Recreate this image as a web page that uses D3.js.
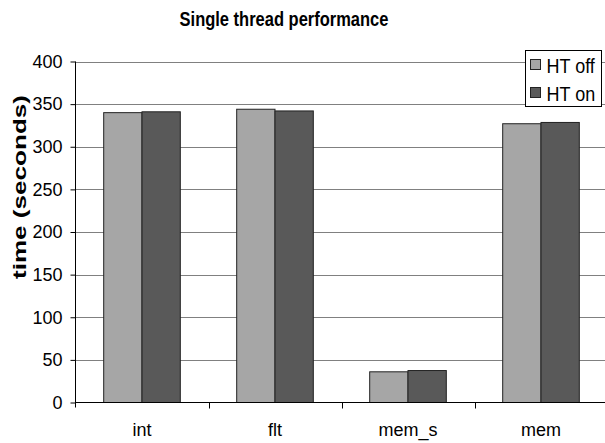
<!DOCTYPE html>
<html>
<head>
    <meta charset="utf-8">
    <title>Single thread performance</title>
    <style type="text/css">
        body{
            margin:0;
            padding:0;
            background:#fff;
            font-family: 'Liberation Sans', Arial, Helvetica, sans-serif;
        }
        text {
            fill: #000;
        }
        .grid line {
            stroke: #808080;
            stroke-width: 1;
        }
        .bar {
            stroke: #222;
            stroke-width: 1;
        }
    </style>
</head>

<body>
<div id="chart"></div>

<script src="https://d3js.org/d3.v7.min.js"></script>
<script>

var categories = ["int", "flt", "mem_s", "mem"];
var series = ["HT off", "HT on"];
var htOff = [340, 344, 36, 327];
var htOn = [341, 342, 37.5, 328.5];
var yTicks = [0, 50, 100, 150, 200, 250, 300, 350, 400];
var colors = ["#a6a6a6", "#595959"];

var width = 605,
    height = 443;

var svg = d3.select("#chart").append("svg")
    .attr("width", width)
    .attr("height", height);

var x = d3.scaleBand()
    .domain(categories)
    .range([75.5, 607.5])
    .padding(0);

var xSub = d3.scaleBand()
    .domain(series)
    .range([0, x.bandwidth()])
    .paddingInner(0)
    .paddingOuter(0.736);

var y = d3.scaleLinear()
    .domain([0, 400])
    .range([402.5, 61.5]);

// gridlines
svg.append("g")
    .attr("class", "grid")
    .selectAll("line")
    .data(yTicks.filter(function(d) { return d > 0; }))
    .enter().append("line")
    .attr("x1", 75.5)
    .attr("x2", width)
    .attr("y1", function(d) { return Math.round(y(d)) + 0.5; })
    .attr("y2", function(d) { return Math.round(y(d)) + 0.5; });

// bars
var rows = categories.map(function(c, i) {
    return { cat: c, values: [htOff[i], htOn[i]] };
});

svg.append("g")
    .selectAll("g")
    .data(rows)
    .enter().append("g")
    .attr("transform", function(d) { return "translate(" + x(d.cat) + ",0)"; })
    .selectAll("rect")
    .data(function(d) { return d.values.map(function(v, j) { return { s: series[j], v: v, j: j }; }); })
    .enter().append("rect")
    .attr("class", "bar")
    .attr("x", function(d) { return xSub(d.s); })
    .attr("width", xSub.bandwidth())
    .attr("y", function(d) { return y(d.v); })
    .attr("height", function(d) { return y(0) - y(d.v); })
    .attr("fill", function(d) { return colors[d.j]; });

// y axis
var yAxis = svg.append("g")
    .attr("transform", "translate(75.5,0)")
    .call(d3.axisLeft(y).tickValues(yTicks).tickSize(5).tickPadding(8));
yAxis.select(".domain").attr("stroke", "#000").attr("d", "M0," + y(400) + "V" + (y(0) + 5));
yAxis.selectAll(".tick line").attr("stroke", "#000");
yAxis.selectAll("text")
    .style("font-family", "'Liberation Sans', Arial, sans-serif")
    .style("font-size", "18px")
    .attr("fill", "#000");

// x axis
var xAxis = svg.append("g")
    .attr("transform", "translate(0," + y(0) + ")")
    .call(d3.axisBottom(x).tickSize(0).tickPadding(21));
xAxis.select(".domain").attr("stroke", "#000").attr("d", "M75.5,0H" + width);
xAxis.selectAll("text")
    .style("font-family", "'Liberation Sans', Arial, sans-serif")
    .style("font-size", "18px")
    .attr("fill", "#000");

// category dividers
svg.append("g")
    .selectAll("line")
    .data(categories.slice(1))
    .enter().append("line")
    .attr("x1", function(d) { return Math.round(x(d)) + 0.5; })
    .attr("x2", function(d) { return Math.round(x(d)) + 0.5; })
    .attr("y1", y(0))
    .attr("y2", y(0) + 6)
    .attr("stroke", "#000");

// title
svg.append("text")
    .attr("transform", "translate(284,26) scale(1,1.18)")
    .attr("text-anchor", "middle")
    .style("font-size", "16.5px")
    .style("font-weight", "bold")
    .text("Single thread performance");

// y label
svg.append("text")
    .attr("transform", "translate(26,187) rotate(-90)")
    .attr("text-anchor", "middle")
    .attr("textLength", 184)
    .attr("lengthAdjust", "spacingAndGlyphs")
    .style("font-size", "19px")
    .style("font-weight", "bold")
    .text("time (seconds)");

// legend
var legend = svg.append("g").attr("transform", "translate(525.5,50.5)");
legend.append("rect")
    .attr("width", 76)
    .attr("height", 56)
    .attr("fill", "#fff")
    .attr("stroke", "#000");

var item = legend.selectAll(".item")
    .data(series)
    .enter().append("g")
    .attr("transform", function(d, i) { return "translate(0," + (i * 28) + ")"; });
item.append("rect")
    .attr("x", 5)
    .attr("y", 9)
    .attr("width", 10)
    .attr("height", 10)
    .attr("fill", function(d, i) { return colors[i]; })
    .attr("stroke", "#222");
item.append("text")
    .attr("transform", "translate(21,22) scale(1,1.1)")
    .style("font-size", "18px")
    .text(function(d) { return d; });

</script>
</body>
</html>
